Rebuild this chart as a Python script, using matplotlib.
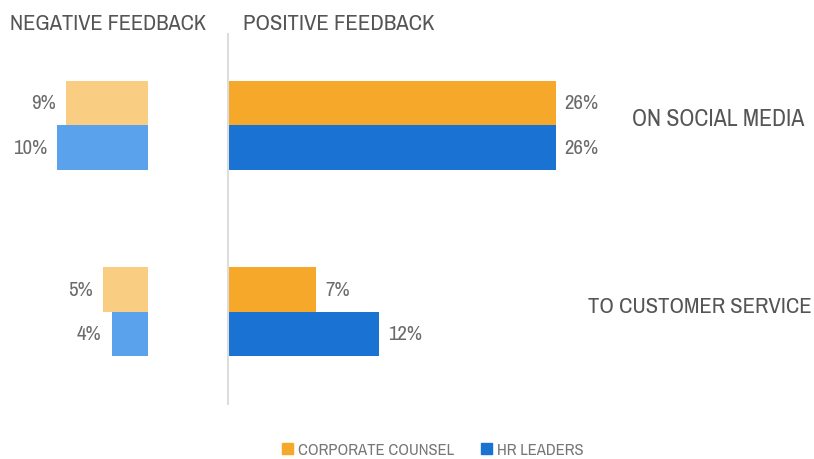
import matplotlib.pyplot as plt
from matplotlib import font_manager
from matplotlib.patches import Patch

names = sorted({f.name for f in font_manager.fontManager.ttflist})
narrow = [n for n in names if 'Narrow' in n or 'Condensed' in n]
base = narrow[0] if narrow else 'Liberation Sans'
plt.rcParams['font.family'] = [base, 'DejaVu Sans']

categories = ['ON SOCIAL MEDIA', 'TO CUSTOMER SERVICE']
series = ['CORPORATE COUNSEL', 'HR LEADERS']
negative = {'CORPORATE COUNSEL': [9, 5], 'HR LEADERS': [10, 4]}
positive = {'CORPORATE COUNSEL': [26, 7], 'HR LEADERS': [26, 12]}

dark = {'CORPORATE COUNSEL': '#F5A82A', 'HR LEADERS': '#1A72D2'}
light = {'CORPORATE COUNSEL': '#F9CE82', 'HR LEADERS': '#5AA2EB'}

W, H = 814, 460
fig = plt.figure(figsize=(W / 100, H / 100), dpi=100)
renderer = fig.canvas.get_renderer()


def px_axes(x0, y0, x1, y1):
    return fig.add_axes([x0 / W, 1 - y1 / H, (x1 - x0) / W, (y1 - y0) / H])


def fit(t, width_px):
    # scale font so the text spans the width seen in the reference
    w = t.get_window_extent(renderer).width
    t.set_fontsize(t.get_fontsize() * width_px / w)


ax_neg = px_axes(0, 35, 148, 405)
ax_pos = px_axes(228, 35, 814, 405)

bh = 0.2386
offsets = [-bh / 2, bh / 2]
ylim = (1.496, -0.488)
text_gray = '#6b6b6b'
title_gray = '#555555'

for ax in (ax_neg, ax_pos):
    ax.set_ylim(*ylim)
    ax.set_xticks([])
    ax.set_yticks([])
    for s in ax.spines.values():
        s.set_visible(False)
    ax.patch.set_alpha(0)

ax_neg.set_xlim(148 / 9.1, 0)
ax_pos.set_xlim(0, 586 / 12.6)
ax_pos.spines['left'].set_visible(True)
ax_pos.spines['left'].set_color('#dddddd')
ax_pos.spines['left'].set_linewidth(1.5)

for off, name in zip(offsets, series):
    ys = [i + off for i in range(len(categories))]
    ax_neg.barh(ys, negative[name], height=bh, color=light[name])
    ax_pos.barh(ys, positive[name], height=bh, color=dark[name])
    for y, v in zip(ys, negative[name]):
        ax_neg.text(v + 1.1, y, f'{v}%', ha='right', va='center',
                    fontsize=15, color=text_gray)
    for y, v in zip(ys, positive[name]):
        ax_pos.text(v + 0.7, y, f'{v}%', ha='left', va='center',
                    fontsize=15, color=text_gray)

t1 = fig.text(632 / W, 1 - 120 / H, categories[0], ha='left', va='center',
              fontsize=15, color=title_gray)
t2 = fig.text(588 / W, 1 - 307 / H, categories[1], ha='left', va='center',
              fontsize=15, color=title_gray)
h1 = fig.text(10 / W, 1 - 24 / H, 'NEGATIVE FEEDBACK', ha='left', va='center',
              fontsize=15, color=title_gray)
h2 = fig.text(243 / W, 1 - 24 / H, 'POSITIVE FEEDBACK', ha='left', va='center',
              fontsize=15, color=title_gray)
fit(t1, 173)
fit(t2, 224)
fit(h1, 197)
fit(h2, 192)

handles = [Patch(color=dark[n], label=n) for n in series]
fig.legend(handles=handles, loc='center', bbox_to_anchor=(433 / W, 1 - 451 / H),
           ncol=2, frameon=False, fontsize=12, handlelength=0.65, handleheight=0.65,
           handletextpad=0.3, columnspacing=1.6, labelcolor='#777777')

fig.savefig('out.png', dpi=100)
